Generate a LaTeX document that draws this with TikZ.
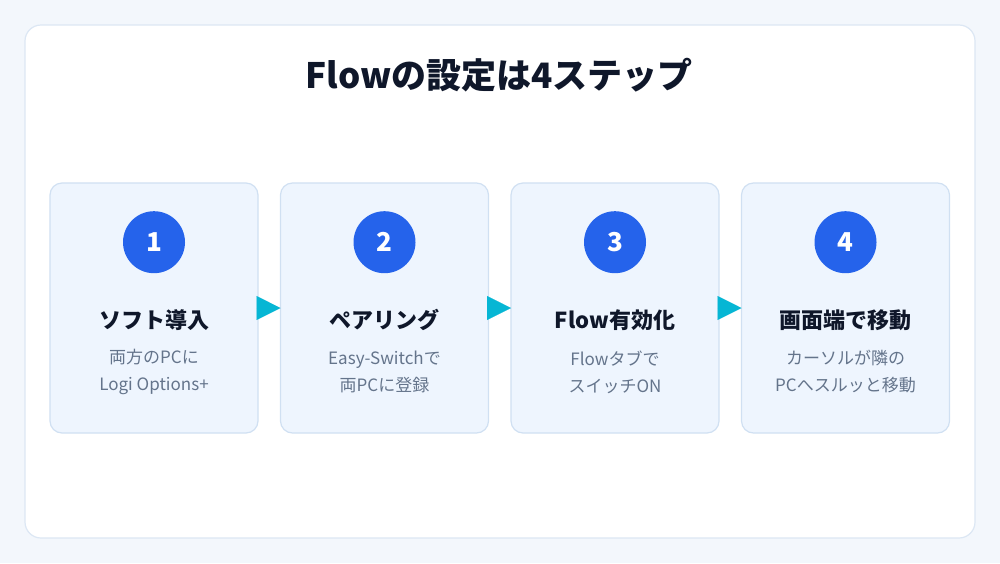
\documentclass[tikz,border=0pt]{standalone}
\usepackage{fontspec}
\setmainfont{Noto Sans CJK JP}
\usepackage{xcolor}
\usetikzlibrary{arrows.meta,calc,positioning}
\definecolor{page}{HTML}{F3F7FC}
\definecolor{ink}{HTML}{0F172A}
\definecolor{muted}{HTML}{64748B}
\definecolor{line}{HTML}{DCE7F4}
\definecolor{cardline}{HTML}{D0E0F2}
\definecolor{cardfill}{HTML}{EEF5FE}
\definecolor{accent}{HTML}{2563EB}
\definecolor{flowcyan}{HTML}{06B6D4}
\tikzset{
  panel/.style={rounded corners=16pt,draw=line,fill=white,line width=1.2pt},
  stepcard/.style={rounded corners=12pt,draw=cardline,fill=cardfill,line width=1.2pt,
              minimum width=208pt,minimum height=250pt,outer sep=0pt,inner sep=0pt},
  numdot/.style={circle,fill=accent,minimum size=62pt,inner sep=0pt,
              text=white,font=\fontsize{26}{30}\selectfont\bfseries},
  steptitle/.style={text=ink,font=\fontsize{22}{26}\selectfont\bfseries,inner sep=0pt},
  stepnote/.style={text=muted,align=center,inner sep=0pt,
              font=\fontsize{17}{27}\selectfont},
  next/.style={-{Triangle[length=24pt,width=24pt]},draw=flowcyan,fill=flowcyan,line width=0.1pt}
}
\begin{document}
\begin{tikzpicture}[x=1pt,y=-1pt,node distance=22.5pt]
    \fill[page] (0,0) rectangle (1000,563);
    \draw[panel] (25,25) rectangle (975,538);
    \node[text=ink,font=\fontsize{35}{40}\selectfont\bfseries] (head) at (499,75) {Flowの設定は4ステップ};
    % cards
    \node[stepcard] (s1) at (154,308) {};
    \node[stepcard,right=of s1] (s2) {};
    \node[stepcard,right=of s2] (s3) {};
    \node[stepcard,right=of s3] (s4) {};
    % numbers
    \node[numdot,below=28pt of s1.north] (n1) {1};
    \node[numdot,below=28pt of s2.north] (n2) {2};
    \node[numdot,below=28pt of s3.north] (n3) {3};
    \node[numdot,below=28pt of s4.north] (n4) {4};
    % titles
    \node[steptitle] (t1) at ($(s1.north)+(0,137)$) {ソフト導入};
    \node[steptitle] (t2) at ($(s2.north)+(0,137)$) {ペアリング};
    \node[steptitle] (t3) at ($(s3.north)+(0,137)$) {Flow有効化};
    \node[steptitle] (t4) at ($(s4.north)+(0,137)$) {画面端で移動};
    % notes
    \node[stepnote] (d1) at ($(s1.north)+(0,189)$) {両方のPCに\\Logi Options+};
    \node[stepnote] (d2) at ($(s2.north)+(0,189)$) {Easy-Switchで\\両PCに登録};
    \node[stepnote] (d3) at ($(s3.north)+(0,189)$) {Flowタブで\\スイッチON};
    \node[stepnote] (d4) at ($(s4.north)+(0,189)$) {カーソルが隣の\\PCへスルッと移動};
    % arrows
    \draw[next] (s1.east) -- (s2.west);
    \draw[next] (s2.east) -- (s3.west);
    \draw[next] (s3.east) -- (s4.west);
\end{tikzpicture}
\end{document}
